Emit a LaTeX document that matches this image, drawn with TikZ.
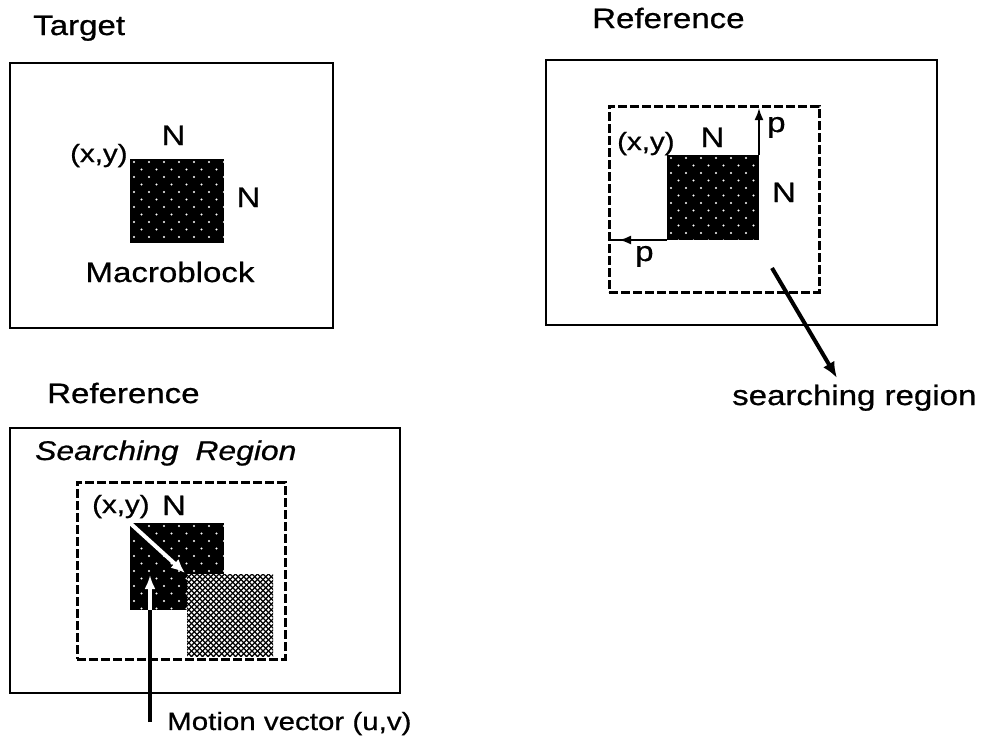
\documentclass[tikz,border=0pt]{standalone}
\usepackage{fontspec}
\setmainfont{Liberation Sans}[FakeStretch=1.18,FakeBold=0.7]
\usetikzlibrary{arrows.meta}
\newcommand\mydots[1]{%
  \begin{scope}
    \clip (#1.north west) rectangle (#1.south east);
    \foreach \j in {0,...,11}{\foreach \i in {0,...,6}{%
      \fill[white] ([shift={({4+15*\i+7.5*mod(\j,2)},{3+7.5*\j})}]#1.north west) circle (1.2pt);}}
  \end{scope}}
\newcommand\myhatch[1]{%
  \begin{scope}
    \clip (#1.north west) rectangle (#1.south east);
    \foreach \k in {-100,-94.5,...,200}{%
      \draw[line width=1.2pt] ([shift={(\k,0)}]#1.north west) -- ++(100,100);
      \draw[line width=1.2pt] ([shift={(\k,0)}]#1.north west) -- ++(-100,100);}
  \end{scope}}
\begin{document}
\begin{tikzpicture}[x=1pt,y=-1pt,
  frame/.style={draw, line width=1.6pt, inner sep=0pt, outer sep=0pt, anchor=north west},
  dbox/.style={draw, line width=3pt, dash pattern=on 9pt off 3pt, inner sep=0pt, outer sep=0pt, anchor=north west},
  blk/.style={fill=black, inner sep=0pt, outer sep=0pt, anchor=north west},
  hblk/.style={fill=white, inner sep=0pt, outer sep=0pt, anchor=north west},
  big/.style={inner sep=0pt, font=\fontsize{28}{32}\selectfont},
  mid/.style={inner sep=0pt, font=\fontsize{25}{30}\selectfont},
  small/.style={inner sep=0pt, font=\fontsize{25}{28}\selectfont},
  ital/.style={inner sep=0pt, font=\fontsize{27}{30}\selectfont\itshape},
  thinarrow/.style={line width=2pt, -{Latex[length=12pt,width=9pt]}},
  thickarrow/.style={line width=4pt, -{Latex[length=16pt,width=13pt]}}
]
\useasboundingbox (0,0) rectangle (986,742);
\fill[white] (0,0) rectangle (986,742);

% ---------- Panel 1: Target ----------
\node[big, anchor=base west] (t1) at (33,35) {Target};
\node[frame, minimum width=323pt, minimum height=265pt] (f1) at (10,63) {};
\node[blk, minimum width=94pt, minimum height=84pt] (b1) at (130,159) {};
\mydots{b1}
\node[mid, anchor=base west] (xy1) at (70,162) {(x,y)};
\node[big, anchor=base] (n1a) at (173.5,145) {N};
\node[big, anchor=base] (n1b) at (248.5,207) {N};
\node[big, anchor=base] (mb) at (170,282) {Macroblock};

% ---------- Panel 2: Reference (top right) ----------
\node[big, anchor=base west] (t2) at (592,28) {Reference};
\node[frame, minimum width=391pt, minimum height=265pt] (f2) at (546,60) {};
\node[dbox, minimum width=210pt, minimum height=186pt] (d2) at (609,106) {};
\node[blk, minimum width=92pt, minimum height=85pt] (b2) at (667,155) {};
\mydots{b2}
\node[mid, anchor=base west] (xy2) at (617,150) {(x,y)};
\node[big, anchor=base] (n2a) at (712.5,147) {N};
\node[big, anchor=base] (n2b) at (784,202) {N};
\node[big, anchor=base west] (p2a) at (767,132) {p};
\node[big, anchor=base west] (p2b) at (635,261) {p};
\draw[thinarrow] (b2.north east) -- ([yshift=-2pt]b2.north east |- d2.north);
\coordinate (lp) at (b2.south west -| d2.west);
\draw[line width=2pt] (b2.south west) -- (lp);
\draw[thinarrow] (b2.south west) -- ([xshift=10pt]lp);
\node[big, anchor=base west] (srl) at (732,405) {searching region};
\coordinate (ss) at (772,268);
\coordinate (se) at (837,378);
\draw[thickarrow] (ss) -- (se);

% ---------- Panel 3: Reference (bottom left) ----------
\node[big, anchor=base west] (t3) at (47,403) {Reference};
\node[frame, minimum width=390pt, minimum height=265pt] (f3) at (10,428) {};
\node[ital, anchor=base west] (sr) at (35,460) {Searching\hspace{8pt} Region};
\node[dbox, minimum width=208pt, minimum height=177pt] (d3) at (77,482) {};
\node[blk, minimum width=94pt, minimum height=87pt] (b3) at (130,523) {};
\mydots{b3}
\node[hblk, minimum width=86pt, minimum height=82pt] (h3) at (187,574) {};
\myhatch{h3}
\node[mid, anchor=base west] (xy3) at (92,513) {(x,y)};
\node[big, anchor=base] (n3) at (174,515) {N};
\draw[white, line width=4pt, -{Latex[length=14pt,width=12pt]}] (b3.north west) -- ([shift={(-2,-1)}]h3.north west);
\coordinate (mvb) at (150,722);
\coordinate (mvm) at (mvb |- b3.south);
\coordinate (mvt) at (150,575);
\draw[black, line width=4pt] (mvb) -- (mvm);
\draw[white, line width=4pt, -{Latex[length=14pt,width=11pt]}] (mvm) -- (mvt);
\node[small, anchor=base west] (mvl) at (167,730) {Motion vector (u,v)};
\end{tikzpicture}
\end{document}
